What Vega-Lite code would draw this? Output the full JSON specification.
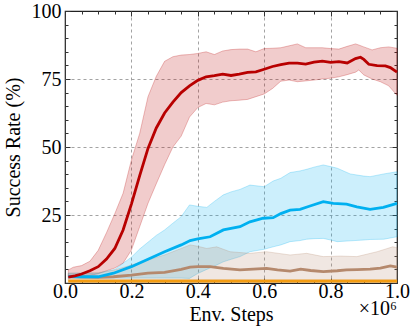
{
  "$schema": "https://vega.github.io/schema/vega-lite/v6.json",
  "width": 332,
  "height": 272,
  "autosize": {"type": "none"},
  "padding": {"left": 65, "top": 11, "right": 18, "bottom": 49},
  "config": {
    "font": "Liberation Serif, DejaVu Serif, serif",
    "view": {"stroke": "#222222", "strokeWidth": 1.2},
    "axis": {
      "domain": false,
      "labelFont": "Liberation Serif, DejaVu Serif, serif",
      "titleFont": "Liberation Serif, DejaVu Serif, serif",
      "labelFontSize": 20,
      "titleFontSize": 20,
      "titleFontWeight": "normal",
      "labelColor": "#000000",
      "titleColor": "#000000",
      "tickColor": "#333333",
      "tickWidth": 1,
      "gridColor": "#999999",
      "gridDash": [3, 3],
      "gridWidth": 0.9
    }
  },
  "datasets": {
    "bands": [
      {"series": "a", "x": 0.01, "lo": 2.0, "hi": 4.8},
      {"series": "a", "x": 0.025, "lo": 2.3, "hi": 5.8},
      {"series": "a", "x": 0.05, "lo": 2.5, "hi": 6.4},
      {"series": "a", "x": 0.075, "lo": 2.8, "hi": 8.0},
      {"series": "a", "x": 0.1, "lo": 3.4, "hi": 12.0},
      {"series": "a", "x": 0.125, "lo": 4.5, "hi": 18.5},
      {"series": "a", "x": 0.15, "lo": 5.5, "hi": 25.5},
      {"series": "a", "x": 0.175, "lo": 7.3, "hi": 33.0},
      {"series": "a", "x": 0.2, "lo": 12.1, "hi": 45.2},
      {"series": "a", "x": 0.225, "lo": 20.7, "hi": 55.0},
      {"series": "a", "x": 0.25, "lo": 29.3, "hi": 68.5},
      {"series": "a", "x": 0.275, "lo": 36.5, "hi": 76.0},
      {"series": "a", "x": 0.3, "lo": 43.5, "hi": 81.5},
      {"series": "a", "x": 0.325, "lo": 50.0, "hi": 83.2},
      {"series": "a", "x": 0.35, "lo": 54.0, "hi": 83.8},
      {"series": "a", "x": 0.375, "lo": 61.0, "hi": 84.0},
      {"series": "a", "x": 0.4, "lo": 64.5, "hi": 84.4},
      {"series": "a", "x": 0.425, "lo": 66.0, "hi": 85.0},
      {"series": "a", "x": 0.45, "lo": 65.5, "hi": 84.0},
      {"series": "a", "x": 0.475, "lo": 66.5, "hi": 85.3},
      {"series": "a", "x": 0.5, "lo": 67.0, "hi": 85.8},
      {"series": "a", "x": 0.525, "lo": 67.2, "hi": 86.0},
      {"series": "a", "x": 0.55, "lo": 67.5, "hi": 86.0},
      {"series": "a", "x": 0.575, "lo": 68.5, "hi": 85.0},
      {"series": "a", "x": 0.6, "lo": 69.5, "hi": 86.2},
      {"series": "a", "x": 0.625, "lo": 71.5, "hi": 86.3},
      {"series": "a", "x": 0.65, "lo": 74.2, "hi": 86.5},
      {"series": "a", "x": 0.675, "lo": 74.6, "hi": 87.2},
      {"series": "a", "x": 0.7, "lo": 74.0, "hi": 87.9},
      {"series": "a", "x": 0.725, "lo": 74.3, "hi": 86.5},
      {"series": "a", "x": 0.75, "lo": 74.6, "hi": 86.5},
      {"series": "a", "x": 0.775, "lo": 75.0, "hi": 86.5},
      {"series": "a", "x": 0.8, "lo": 75.3, "hi": 86.2},
      {"series": "a", "x": 0.825, "lo": 75.8, "hi": 86.0},
      {"series": "a", "x": 0.85, "lo": 76.6, "hi": 87.0},
      {"series": "a", "x": 0.875, "lo": 77.5, "hi": 87.9},
      {"series": "a", "x": 0.885, "lo": 78.3, "hi": 87.5},
      {"series": "a", "x": 0.9, "lo": 76.5, "hi": 86.8},
      {"series": "a", "x": 0.925, "lo": 75.0, "hi": 85.7},
      {"series": "a", "x": 0.95, "lo": 74.0, "hi": 86.5},
      {"series": "a", "x": 0.975, "lo": 72.5, "hi": 86.8},
      {"series": "a", "x": 1.0, "lo": 69.0, "hi": 86.3},

      {"series": "b", "x": 0.01, "lo": 1.8, "hi": 3.6},
      {"series": "b", "x": 0.05, "lo": 1.8, "hi": 3.6},
      {"series": "b", "x": 0.1, "lo": 1.8, "hi": 3.6},
      {"series": "b", "x": 0.15, "lo": 1.8, "hi": 5.0},
      {"series": "b", "x": 0.2, "lo": 1.8, "hi": 9.5},
      {"series": "b", "x": 0.225, "lo": 1.8, "hi": 12.5},
      {"series": "b", "x": 0.25, "lo": 1.8, "hi": 15.0},
      {"series": "b", "x": 0.275, "lo": 1.8, "hi": 17.5},
      {"series": "b", "x": 0.3, "lo": 1.8, "hi": 19.5},
      {"series": "b", "x": 0.325, "lo": 1.8, "hi": 22.0},
      {"series": "b", "x": 0.35, "lo": 1.8, "hi": 24.4},
      {"series": "b", "x": 0.375, "lo": 1.7, "hi": 28.7},
      {"series": "b", "x": 0.4, "lo": 3.5, "hi": 28.2},
      {"series": "b", "x": 0.427, "lo": 5.0, "hi": 27.8},
      {"series": "b", "x": 0.45, "lo": 6.2, "hi": 30.0},
      {"series": "b", "x": 0.477, "lo": 7.8, "hi": 32.4},
      {"series": "b", "x": 0.5, "lo": 8.7, "hi": 33.5},
      {"series": "b", "x": 0.527, "lo": 9.7, "hi": 34.4},
      {"series": "b", "x": 0.557, "lo": 11.5, "hi": 36.0},
      {"series": "b", "x": 0.6, "lo": 12.4, "hi": 35.4},
      {"series": "b", "x": 0.627, "lo": 13.3, "hi": 37.5},
      {"series": "b", "x": 0.65, "lo": 14.0, "hi": 38.5},
      {"series": "b", "x": 0.678, "lo": 15.2, "hi": 40.6},
      {"series": "b", "x": 0.708, "lo": 15.6, "hi": 41.2},
      {"series": "b", "x": 0.728, "lo": 16.1, "hi": 41.8},
      {"series": "b", "x": 0.75, "lo": 16.3, "hi": 42.6},
      {"series": "b", "x": 0.778, "lo": 16.4, "hi": 43.4},
      {"series": "b", "x": 0.8, "lo": 15.8, "hi": 42.8},
      {"series": "b", "x": 0.82, "lo": 15.2, "hi": 42.2},
      {"series": "b", "x": 0.859, "lo": 15.5, "hi": 40.1},
      {"series": "b", "x": 0.9, "lo": 15.8, "hi": 39.3},
      {"series": "b", "x": 0.919, "lo": 16.0, "hi": 39.1},
      {"series": "b", "x": 0.96, "lo": 16.1, "hi": 40.1},
      {"series": "b", "x": 1.0, "lo": 17.0, "hi": 40.9},

      {"series": "c", "x": 0.01, "lo": 1.0, "hi": 3.6},
      {"series": "c", "x": 0.1, "lo": 1.0, "hi": 3.8},
      {"series": "c", "x": 0.15, "lo": 1.0, "hi": 4.8},
      {"series": "c", "x": 0.2, "lo": 1.0, "hi": 6.6},
      {"series": "c", "x": 0.25, "lo": 1.0, "hi": 8.5},
      {"series": "c", "x": 0.3, "lo": 1.0, "hi": 10.3},
      {"series": "c", "x": 0.35, "lo": 1.0, "hi": 12.7},
      {"series": "c", "x": 0.377, "lo": 1.0, "hi": 14.0},
      {"series": "c", "x": 0.4, "lo": 1.0, "hi": 13.5},
      {"series": "c", "x": 0.427, "lo": 1.0, "hi": 12.7},
      {"series": "c", "x": 0.457, "lo": 1.0, "hi": 13.3},
      {"series": "c", "x": 0.497, "lo": 1.0, "hi": 11.5},
      {"series": "c", "x": 0.557, "lo": 1.0, "hi": 10.9},
      {"series": "c", "x": 0.607, "lo": 1.0, "hi": 11.5},
      {"series": "c", "x": 0.678, "lo": 1.0, "hi": 10.3},
      {"series": "c", "x": 0.728, "lo": 1.0, "hi": 10.9},
      {"series": "c", "x": 0.778, "lo": 1.0, "hi": 9.7},
      {"series": "c", "x": 0.83, "lo": 1.0, "hi": 9.9},
      {"series": "c", "x": 0.879, "lo": 1.0, "hi": 9.7},
      {"series": "c", "x": 0.94, "lo": 1.0, "hi": 11.5},
      {"series": "c", "x": 0.987, "lo": 1.0, "hi": 13.3},
      {"series": "c", "x": 1.0, "lo": 1.0, "hi": 13.0},

      {"series": "d", "x": 0.01, "lo": 0.3, "hi": 1.2},
      {"series": "d", "x": 0.5, "lo": 0.3, "hi": 1.2},
      {"series": "d", "x": 1.0, "lo": 0.3, "hi": 1.2}
    ],
    "lines": [
      {"series": "d", "x": 0.01, "y": 0.7},
      {"series": "d", "x": 0.5, "y": 0.7},
      {"series": "d", "x": 1.0, "y": 0.7},

      {"series": "c", "x": 0.01, "y": 2.3},
      {"series": "c", "x": 0.1, "y": 2.1},
      {"series": "c", "x": 0.146, "y": 2.3},
      {"series": "c", "x": 0.2, "y": 2.9},
      {"series": "c", "x": 0.25, "y": 3.6},
      {"series": "c", "x": 0.3, "y": 3.9},
      {"series": "c", "x": 0.35, "y": 5.0},
      {"series": "c", "x": 0.377, "y": 5.8},
      {"series": "c", "x": 0.4, "y": 6.0},
      {"series": "c", "x": 0.437, "y": 6.0},
      {"series": "c", "x": 0.477, "y": 5.4},
      {"series": "c", "x": 0.527, "y": 4.8},
      {"series": "c", "x": 0.567, "y": 5.1},
      {"series": "c", "x": 0.607, "y": 5.4},
      {"series": "c", "x": 0.64, "y": 4.8},
      {"series": "c", "x": 0.678, "y": 4.4},
      {"series": "c", "x": 0.71, "y": 5.1},
      {"series": "c", "x": 0.74, "y": 4.6},
      {"series": "c", "x": 0.778, "y": 4.2},
      {"series": "c", "x": 0.82, "y": 4.5},
      {"series": "c", "x": 0.848, "y": 4.8},
      {"series": "c", "x": 0.88, "y": 4.9},
      {"series": "c", "x": 0.919, "y": 5.1},
      {"series": "c", "x": 0.95, "y": 5.5},
      {"series": "c", "x": 0.98, "y": 6.3},
      {"series": "c", "x": 1.0, "y": 5.8},

      {"series": "b", "x": 0.01, "y": 2.4},
      {"series": "b", "x": 0.05, "y": 2.3},
      {"series": "b", "x": 0.1, "y": 2.3},
      {"series": "b", "x": 0.146, "y": 3.6},
      {"series": "b", "x": 0.2, "y": 6.0},
      {"series": "b", "x": 0.25, "y": 8.7},
      {"series": "b", "x": 0.3, "y": 11.5},
      {"series": "b", "x": 0.35, "y": 14.0},
      {"series": "b", "x": 0.377, "y": 15.6},
      {"series": "b", "x": 0.4, "y": 16.2},
      {"series": "b", "x": 0.437, "y": 17.0},
      {"series": "b", "x": 0.477, "y": 19.5},
      {"series": "b", "x": 0.527, "y": 20.7},
      {"series": "b", "x": 0.557, "y": 22.5},
      {"series": "b", "x": 0.597, "y": 23.8},
      {"series": "b", "x": 0.627, "y": 24.0},
      {"series": "b", "x": 0.65, "y": 25.5},
      {"series": "b", "x": 0.678, "y": 26.8},
      {"series": "b", "x": 0.708, "y": 27.1},
      {"series": "b", "x": 0.738, "y": 28.3},
      {"series": "b", "x": 0.778, "y": 29.9},
      {"series": "b", "x": 0.808, "y": 29.3},
      {"series": "b", "x": 0.848, "y": 29.0},
      {"series": "b", "x": 0.879, "y": 28.0},
      {"series": "b", "x": 0.919, "y": 27.1},
      {"series": "b", "x": 0.959, "y": 27.8},
      {"series": "b", "x": 1.0, "y": 29.3},

      {"series": "a", "x": 0.01, "y": 2.2},
      {"series": "a", "x": 0.03, "y": 2.6},
      {"series": "a", "x": 0.05, "y": 3.3},
      {"series": "a", "x": 0.075, "y": 4.5},
      {"series": "a", "x": 0.1, "y": 6.0},
      {"series": "a", "x": 0.125, "y": 8.8},
      {"series": "a", "x": 0.15, "y": 12.7},
      {"series": "a", "x": 0.175, "y": 19.5},
      {"series": "a", "x": 0.2, "y": 29.0},
      {"series": "a", "x": 0.225, "y": 39.5},
      {"series": "a", "x": 0.25, "y": 49.5},
      {"series": "a", "x": 0.275, "y": 57.0},
      {"series": "a", "x": 0.3, "y": 62.5},
      {"series": "a", "x": 0.325, "y": 66.5},
      {"series": "a", "x": 0.35, "y": 70.0},
      {"series": "a", "x": 0.375, "y": 72.5},
      {"series": "a", "x": 0.4, "y": 74.5},
      {"series": "a", "x": 0.425, "y": 75.8},
      {"series": "a", "x": 0.45, "y": 76.2},
      {"series": "a", "x": 0.475, "y": 76.8},
      {"series": "a", "x": 0.5, "y": 76.3},
      {"series": "a", "x": 0.525, "y": 76.8},
      {"series": "a", "x": 0.55, "y": 77.4},
      {"series": "a", "x": 0.575, "y": 77.6},
      {"series": "a", "x": 0.6, "y": 78.6},
      {"series": "a", "x": 0.625, "y": 79.6},
      {"series": "a", "x": 0.65, "y": 80.3},
      {"series": "a", "x": 0.675, "y": 80.8},
      {"series": "a", "x": 0.7, "y": 80.8},
      {"series": "a", "x": 0.725, "y": 80.5},
      {"series": "a", "x": 0.75, "y": 81.2},
      {"series": "a", "x": 0.775, "y": 81.6},
      {"series": "a", "x": 0.8, "y": 81.1},
      {"series": "a", "x": 0.825, "y": 81.4},
      {"series": "a", "x": 0.85, "y": 80.9},
      {"series": "a", "x": 0.875, "y": 82.5},
      {"series": "a", "x": 0.89, "y": 83.0},
      {"series": "a", "x": 0.9, "y": 82.2},
      {"series": "a", "x": 0.915, "y": 80.4},
      {"series": "a", "x": 0.94, "y": 79.9},
      {"series": "a", "x": 0.965, "y": 79.8},
      {"series": "a", "x": 0.98, "y": 79.2},
      {"series": "a", "x": 1.0, "y": 77.5}
    ],
    "note": [{"x": 1.0, "y": 0, "label": "×10⁶"}]
  },
  "layer": [
    {
      "data": {"name": "bands"},
      "mark": {"type": "area", "fillOpacity": 0.2, "strokeOpacity": 0.25, "strokeWidth": 1},
      "encoding": {
        "x": {
          "field": "x", "type": "quantitative",
          "scale": {"domain": [0, 1], "nice": false},
          "axis": {
            "orient": "bottom",
            "title": "Env. Steps",
            "values": [0, 0.05, 0.1, 0.15, 0.2, 0.25, 0.3, 0.35, 0.4, 0.45, 0.5, 0.55, 0.6, 0.65, 0.7, 0.75, 0.8, 0.85, 0.9, 0.95, 1.0],
            "labelExpr": "round(datum.value*20) % 4 == 0 ? format(datum.value, '.1f') : ''",
            "tickSize": {"condition": {"test": "round(datum.value*20) % 4 == 0", "value": -5}, "value": -3},
            "gridOpacity": {"condition": {"test": "round(datum.value*20) % 4 == 0 && datum.value > 0.01 && datum.value < 0.99", "value": 1}, "value": 0},
            "labelPadding": 3,
            "labelFlush": false,
            "labelOverlap": false,
            "titlePadding": 1
          }
        },
        "y": {
          "field": "lo", "type": "quantitative",
          "scale": {"domain": [0, 100], "nice": false},
          "axis": {
            "orient": "left",
            "title": "Success Rate (%)",
            "values": [0, 5, 10, 15, 20, 25, 30, 35, 40, 45, 50, 55, 60, 65, 70, 75, 80, 85, 90, 95, 100],
            "labelExpr": "datum.value % 25 == 0 && datum.value > 0 ? format(datum.value, 'd') : ''",
            "tickSize": {"condition": {"test": "datum.value % 25 == 0", "value": -5}, "value": -3},
            "gridOpacity": {"condition": {"test": "datum.value % 25 == 0 && datum.value > 0 && datum.value < 100", "value": 1}, "value": 0},
            "labelPadding": 9,
            "labelFlush": false,
            "labelOverlap": false,
            "titlePadding": 8
          }
        },
        "y2": {"field": "hi"},
        "fill": {"field": "series", "type": "nominal", "scale": {"domain": ["a", "b", "c", "d"], "range": ["#b80000", "#00b0f0", "#b5896d", "#f39c12"]}, "legend": null},
        "stroke": {"field": "series", "type": "nominal", "scale": {"domain": ["a", "b", "c", "d"], "range": ["#b80000", "#00b0f0", "#b5896d", "#f39c12"]}, "legend": null}
      }
    },
    {
      "data": {"name": "lines"},
      "mark": {"type": "line", "strokeWidth": 2.8, "interpolate": "linear"},
      "encoding": {
        "x": {"field": "x", "type": "quantitative", "axis": {"orient": "top", "title": null, "labels": false, "grid": false,
          "values": [0, 0.05, 0.1, 0.15, 0.2, 0.25, 0.3, 0.35, 0.4, 0.45, 0.5, 0.55, 0.6, 0.65, 0.7, 0.75, 0.8, 0.85, 0.9, 0.95, 1.0],
          "tickSize": {"condition": {"test": "round(datum.value*20) % 4 == 0", "value": -5}, "value": -3}}},
        "y": {"field": "y", "type": "quantitative", "axis": {"orient": "right", "title": null, "labels": false, "grid": false,
          "values": [0, 5, 10, 15, 20, 25, 30, 35, 40, 45, 50, 55, 60, 65, 70, 75, 80, 85, 90, 95, 100],
          "tickSize": {"condition": {"test": "datum.value % 25 == 0", "value": -5}, "value": -3}}},
        "stroke": {"field": "series", "type": "nominal", "legend": null},
        "order": {"field": "x", "type": "quantitative"}
      }
    },
    {
      "data": {"name": "note"},
      "mark": {"type": "text", "align": "right", "baseline": "top", "dy": 16, "dx": 0, "fontSize": 20, "font": "Liberation Serif, DejaVu Serif, serif", "color": "#000000"},
      "encoding": {
        "x": {"field": "x", "type": "quantitative", "axis": null},
        "y": {"field": "y", "type": "quantitative", "axis": null},
        "text": {"field": "label"}
      }
    }
  ],
  "resolve": {"axis": {"x": "independent", "y": "independent"}}
}
